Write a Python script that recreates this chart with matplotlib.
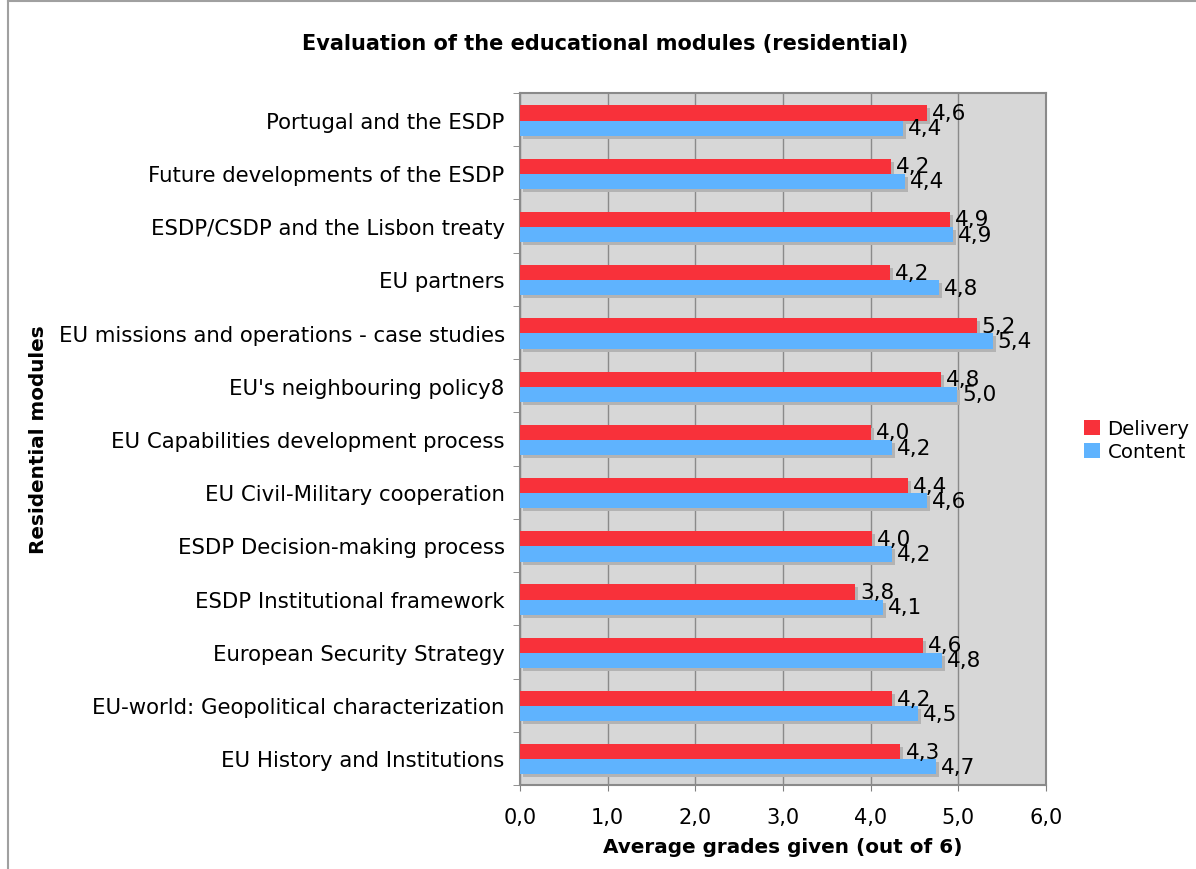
import matplotlib.pyplot as plt
import matplotlib.transforms as mtransforms
from matplotlib.ticker import FuncFormatter, FixedLocator
from matplotlib.lines import Line2D
import numpy as np

# modules from top to bottom as in the chart
modules = [
    "Portugal and the ESDP",
    "Future developments of the ESDP",
    "ESDP/CSDP and the Lisbon treaty",
    "EU partners",
    "EU missions and operations - case studies",
    "EU's neighbouring policy8",
    "EU Capabilities development process",
    "EU Civil-Military cooperation",
    "ESDP Decision-making process",
    "ESDP Institutional framework",
    "European Security Strategy",
    "EU-world: Geopolitical characterization",
    "EU History and Institutions",
]
delivery = [4.64, 4.23, 4.90, 4.22, 5.21, 4.80, 4.00, 4.43, 4.01, 3.82, 4.60, 4.24, 4.34]
content = [4.37, 4.39, 4.94, 4.78, 5.39, 4.99, 4.24, 4.64, 4.24, 4.14, 4.81, 4.54, 4.74]

red = "#f8313a"
blue = "#5fb3fe"
shadow = "#b3b3b3"

fig = plt.figure(figsize=(11.96, 8.7), dpi=100)
ax = fig.add_axes([520 / 1196, 1 - 786 / 870, 526 / 1196, 692 / 870])
ax.set_facecolor("#d7d7d7")

y = np.arange(len(modules))
h = 0.285
off_d, off_c = -0.125, 0.16

# shadow copies shifted a few pixels right and down
sh = mtransforms.offset_copy(ax.transData, fig=fig, x=3, y=-3, units="dots")
ax.barh(y + off_d, delivery, height=h, color=shadow, transform=sh, zorder=2)
ax.barh(y + off_c, content, height=h, color=shadow, transform=sh, zorder=2)
bd = ax.barh(y + off_d, delivery, height=h, color=red, zorder=3, label="Delivery")
bc = ax.barh(y + off_c, content, height=h, color=blue, zorder=3, label="Content")

for bars, vals in ((bd, delivery), (bc, content)):
    for b, v in zip(bars, vals):
        ax.annotate(f"{v:.1f}".replace(".", ","),
                    (b.get_width(), b.get_y() + b.get_height() / 2),
                    xytext=(5, 0), textcoords="offset pixels",
                    ha="left", va="center", fontsize=15.5, zorder=4)

ax.set_xlim(0, 6)
ax.set_ylim(len(modules) - 0.5, -0.5)
ax.set_xticks(np.arange(0, 7, 1))
ax.xaxis.set_major_formatter(FuncFormatter(lambda v, p: f"{v:.1f}".replace(".", ",")))
ax.set_yticks(y)
ax.set_yticklabels(modules)
ax.yaxis.set_minor_locator(FixedLocator(np.arange(-0.5, len(modules), 1)))
ax.tick_params(axis="y", which="major", length=0, pad=11, labelsize=15.3)
ax.tick_params(axis="y", which="minor", length=5, color="#808080")
ax.tick_params(axis="x", length=4, pad=12, labelsize=15, color="#808080")

ax.grid(axis="x", color="#8a8a8a", linewidth=1, zorder=1)
ax.set_axisbelow(True)
for s in ax.spines.values():
    s.set_color("#8a8a8a")
    s.set_linewidth(1.5)

ax.set_xlabel("Average grades given (out of 6)", fontsize=14.4, fontweight="bold", labelpad=7)
ax.set_ylabel("Residential modules", fontsize=14.4, fontweight="bold")
ax.yaxis.set_label_coords(-472 / 526, 0.5)
fig.suptitle("Evaluation of the educational modules (residential)",
             x=605 / 1196, y=1 - 44 / 870, va="center", fontsize=15, fontweight="bold")

fig.legend(handles=[bd, bc], loc="center left", bbox_to_anchor=(1066 / 1196, 1 - 441 / 870),
           frameon=False, fontsize=14.2, handlelength=0.8, handleheight=0.8,
           handletextpad=0.4, labelspacing=0.2)

# thin frame around the chart area
fig.add_artist(Line2D([8 / 1196, 8 / 1196], [0, 1 - 2 / 870], color="#a0a0a0", lw=1.5))
fig.add_artist(Line2D([8 / 1196, 1], [1 - 2 / 870, 1 - 2 / 870], color="#a0a0a0", lw=1.5))

fig.savefig("out.png", dpi=100)
